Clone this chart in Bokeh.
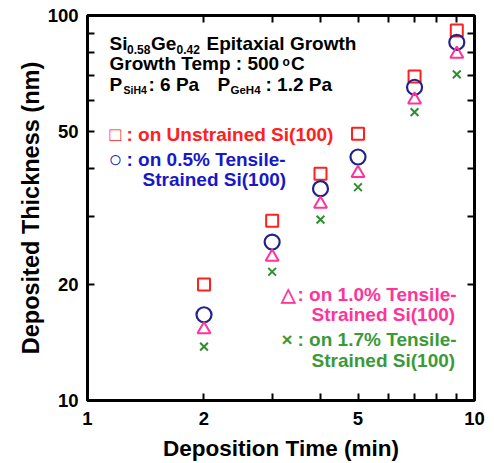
from bokeh.plotting import figure
from bokeh.models import Label, LogAxis, FixedTicker, PrintfTickFormatter
from bokeh.embed import file_html
from bokeh.resources import INLINE

# ---- data ----
time_min = [2, 3, 4, 5, 7, 9]
thick_unstrained = [20.0, 29.3, 38.8, 49.3, 69.4, 91.4]
thick_05 = [16.7, 25.8, 35.5, 42.9, 65.1, 85.2]
thick_10 = [15.3, 23.6, 32.4, 38.9, 60.4, 79.4]
thick_17 = [13.8, 21.6, 29.5, 35.8, 56.1, 70.3]

x_major = [1, 2, 5, 10]
x_minor = [3, 4, 6, 7, 8, 9]
x_all = [2, 3, 4, 5, 6, 7, 8, 9]
x_labels = ["1", "2", "5", "10"]
y_major = [10, 20, 50, 100]
y_minor = [30, 40, 60, 70, 80, 90]
y_all = [20, 30, 40, 50, 60, 70, 80, 90]
y_labels = ["10", "20", "50", "100"]

RED = "#ff2020"
NAVY = "#22228a"
BLUE_TXT = "#1818c8"
PINK = "#ff3399"
GREEN = "#2f8f2f"
GREEN_TXT = "#3a9a3a"
FONT = "Liberation Sans"

FL, FT, FW, FH = 87, 15, 387, 385  # frame in image px (layout only)

p = figure(frame_width=FW, frame_height=FH, x_axis_type="log", y_axis_type="log",
           x_range=(1, 10), y_range=(10, 100), output_backend="svg",
           toolbar_location=None, min_border_left=FL, min_border_right=12,
           min_border_top=FT, min_border_bottom=55)
p.xgrid.visible = False
p.ygrid.visible = False
p.outline_line_color = "black"
p.outline_line_width = 3
p.outline_line_alpha = 1.0


def style_ticks(ax):
    ax.axis_line_color = None
    ax.major_tick_in = 7
    ax.major_tick_out = 0
    ax.minor_tick_in = 7
    ax.minor_tick_out = 0
    ax.major_tick_line_width = 2
    ax.minor_tick_line_width = 2
    ax.major_tick_line_color = "black"
    ax.minor_tick_line_color = "black"


def style_axis(ax, major, minor, labels):
    ax.ticker = FixedTicker(ticks=major, minor_ticks=minor)
    ax.formatter = PrintfTickFormatter(format="%d")
    ax.major_label_overrides = {m: l for m, l in zip(major, labels)}
    style_ticks(ax)
    ax.major_label_text_font = FONT
    ax.major_label_text_font_style = "bold"
    ax.major_label_text_color = "black"
    ax.major_label_text_font_size = "18.5px"


xa = p.xaxis[0]
ya = p.yaxis[0]
style_axis(xa, x_major, x_minor, x_labels)
style_axis(ya, y_major, y_minor, y_labels)
xa.major_label_standoff = 11
ya.major_label_standoff = 9
xa.axis_label = "Deposition Time (min)"
ya.axis_label = "Deposited Thickness (nm)"
for ax, sz in ((xa, "22.5px"), (ya, "23.5px")):
    ax.axis_label_text_font = FONT
    ax.axis_label_text_font_style = "bold"
    ax.axis_label_text_font_size = sz
    ax.axis_label_text_color = "black"
xa.axis_label_standoff = 8
ya.axis_label_standoff = 1

# top / right tick-only axes (minor ticks only -> no labels)
top = LogAxis(ticker=FixedTicker(ticks=[], minor_ticks=x_all))
style_ticks(top)
p.add_layout(top, "above")
right = LogAxis(ticker=FixedTicker(ticks=[], minor_ticks=y_all))
style_ticks(right)
p.add_layout(right, "right")

# ---- data marks ----
p.scatter(time_min, thick_unstrained, marker="square", size=12, fill_color=None,
          line_color=RED, line_width=2)
p.scatter(time_min, thick_05, marker="circle", size=15, fill_color=None,
          line_color=NAVY, line_width=2.2)
p.scatter(time_min, thick_10, marker="triangle", size=13, fill_color=None,
          line_color=PINK, line_width=2)
p.scatter(time_min, thick_17, marker="x", size=11, line_color=GREEN, line_width=2)


def lab(text, px, pyc, size, color="black", font=FONT):
    # px: left edge, pyc: vertical centre (image px)
    p.add_layout(Label(x=px - FL, y=FT + FH - pyc, x_units="screen", y_units="screen",
                       text=text, text_font=font, text_font_style="bold",
                       text_font_size=size, text_color=color,
                       text_baseline="middle", text_align="left"))


# header lines
lab("Si", 109, 43, "19px")
lab("0.58", 126.5, 49, "12px")
lab("Ge", 150.5, 43, "19px")
lab("0.42", 176, 49, "12px")
lab("Epitaxial Growth", 206, 43, "19px")
lab("Growth Temp : 500", 109, 63, "19px")
lab("o", 282, 61, "12px")
lab("C", 290.5, 63, "19px")
lab("P", 109, 84, "19px")
lab("SiH4", 123, 89.5, "10.5px")
lab(": 6 Pa", 148, 84, "19px")
lab("P", 217, 84, "19px")
lab("GeH4", 230, 89.5, "11.5px")
lab(": 1.2 Pa", 265, 84, "19px")

# legend texts
lab("\u25a1", 109, 134, "19px", RED)
lab(": on Unstrained Si(100)", 126, 134, "19px", RED)
lab("\u25cb", 108, 158.5, "23px", BLUE_TXT)
lab(": on 0.5% Tensile-", 126, 158.5, "19px", BLUE_TXT)
lab("Strained Si(100)", 142, 178.5, "19px", BLUE_TXT)
lab("\u25b3", 280, 293.5, "19px", PINK)
lab(": on 1.0% Tensile-", 297, 293.5, "19px", PINK)
lab("Strained Si(100)", 311, 313.5, "19px", PINK)
lab("\u00d7", 281, 338.5, "19px", GREEN_TXT)
lab(": on 1.7% Tensile-", 297, 338.5, "19px", GREEN_TXT)
lab("Strained Si(100)", 311, 360, "19px", GREEN_TXT)

open("out.html", "w").write(file_html(p, INLINE))
